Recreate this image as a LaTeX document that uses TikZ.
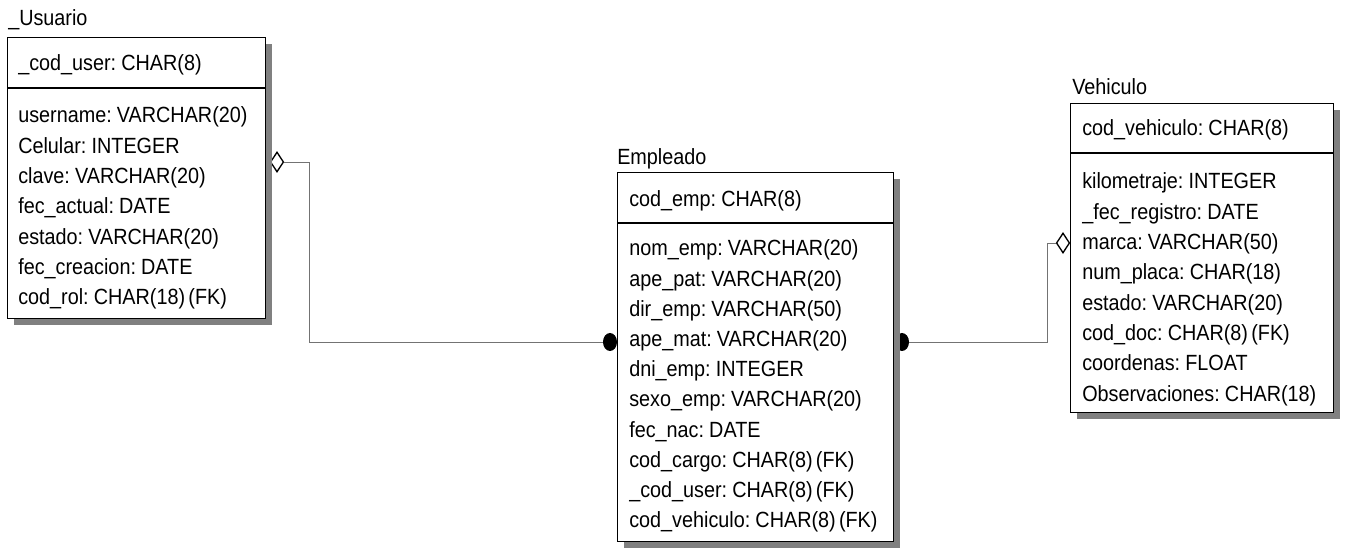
\documentclass[tikz,border=0pt]{standalone}
\usepackage{fontspec}
\setmainfont{Liberation Sans}[FakeStretch=0.9, WordSpace=0.6]
\usetikzlibrary{shapes.geometric}

\begin{document}
\begin{tikzpicture}[x=0.75pt, y=-0.75pt, font=\fontsize{16.5}{20}\selectfont,
  ent/.style={draw, line width=1.1pt, fill=white, anchor=north west, inner sep=0pt},
  sep/.style={draw, line width=1.1pt},
  shade/.style={fill=black!50},
  attr/.style={anchor=base west, inner sep=0pt},
  ttl/.style={anchor=base west, inner sep=0pt},
  rel/.style={draw=black!55, line width=0.6pt},
  opt/.style={diamond, draw, line width=1pt, fill=white, inner sep=0pt, minimum width=10pt, minimum height=15pt},
  many/.style={ellipse, fill=black, inner sep=0pt, minimum width=10.5pt, minimum height=13.5pt}]
\useasboundingbox (0,0) rectangle (1346,548);
\newcommand{\entity}[6]{% name, left, top, right, bottom, divider
  \fill[shade] (#2+7,#3+7) rectangle (#4+7,#5+7);
  \node[ent, minimum width={(#4-#2)*0.75pt}, minimum height={(#5-#3)*0.75pt}] (#1) at (#2,#3) {};
  \draw[sep] (#1.west |- 0,#6) -- (#1.east |- 0,#6);}
% relationship ends
\node[opt] (usr-d) at (277,162) {};
\node[many] (emp-l) at (610,342) {};
\node[many] (emp-r) at (902,342) {};
\node[opt] (veh-d) at (1063,243) {};
\draw[rel] (usr-d.east) -- ++(25,0) |- (emp-l.west);
\draw[rel] (emp-r.east) -- ++(138,0) |- (veh-d.west);
% _Usuario
\node[ttl] (usr-t) at (8,26) {\_Usuario};
\entity{usr}{7}{37}{265}{318}{88}
\node[attr] (usr-k) at (18,71) {\_cod\_user: CHAR(8)};
\foreach \a [count=\i] in {username: VARCHAR(20), Celular: INTEGER, clave: VARCHAR(20),
    fec\_actual: DATE, estado: VARCHAR(20), fec\_creacion: DATE, cod\_rol: CHAR(18) (FK)}
  \node[attr] (usr-\i) at (18,123+30.3*\i-30.3) {\a};
% Empleado
\node[ttl] (emp-t) at (617,165) {Empleado};
\entity{emp}{617}{172}{893}{541}{223}
\node[attr] (emp-k) at (629,207) {cod\_emp: CHAR(8)};
\foreach \a [count=\i] in {nom\_emp: VARCHAR(20), ape\_pat: VARCHAR(20), dir\_emp: VARCHAR(50),
    ape\_mat: VARCHAR(20), dni\_emp: INTEGER, sexo\_emp: VARCHAR(20), fec\_nac: DATE,
    cod\_cargo: CHAR(8) (FK), \_cod\_user: CHAR(8) (FK), cod\_vehiculo: CHAR(8) (FK)}
  \node[attr] (emp-\i) at (629,256+30.2*\i-30.2) {\a};
% Vehiculo
\node[ttl] (veh-t) at (1072,95) {Vehiculo};
\entity{veh}{1070}{103}{1333}{412}{153}
\node[attr] (veh-k) at (1082,136) {cod\_vehiculo: CHAR(8)};
\foreach \a [count=\i] in {kilometraje: INTEGER, \_fec\_registro: DATE, marca: VARCHAR(50),
    num\_placa: CHAR(18), estado: VARCHAR(20), cod\_doc: CHAR(8) (FK), coordenas: FLOAT,
    Observaciones: CHAR(18)}
  \node[attr] (veh-\i) at (1082,189+30.3*\i-30.3) {\a};
\end{tikzpicture}
\end{document}
